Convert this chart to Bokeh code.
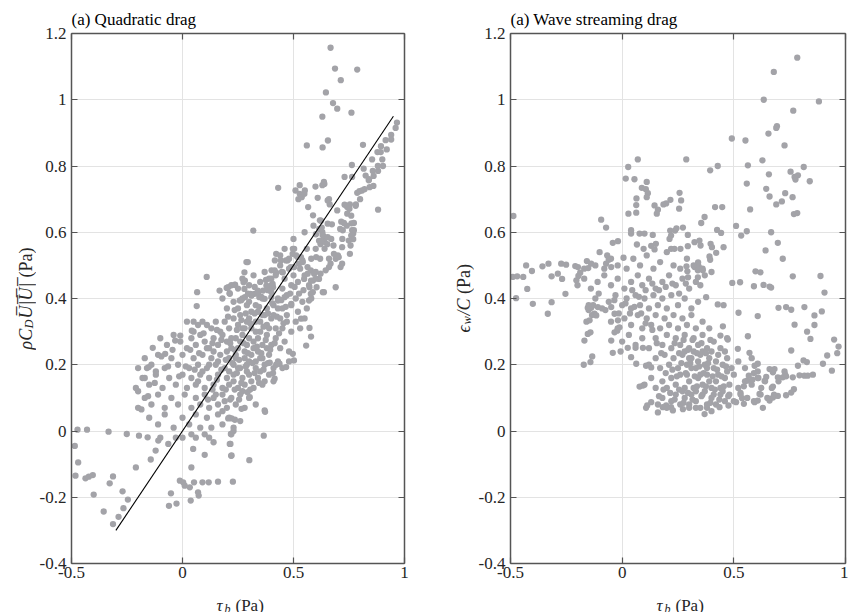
import math
from bokeh.plotting import figure
from bokeh.layouts import row, column
from bokeh.models import FixedTicker, LinearAxis, Label, Range1d
from bokeh.embed import file_html
from bokeh.resources import INLINE

# ---------------- data ----------------
x_ticks = [-0.5, 0, 0.5, 1]
x_tick_labels = ["-0.5", "0", "0.5", "1"]
y_ticks = [-0.4, -0.2, 0, 0.2, 0.4, 0.6, 0.8, 1, 1.2]
y_tick_labels = ["-0.4", "-0.2", "0", "0.2", "0.4", "0.6", "0.8", "1", "1.2"]

fit_x = [-0.3, 0.95]
fit_y = [-0.3, 0.95]

# (a) Quadratic drag : (tau_b, rho C_D U|U|)
quad_upper = [
    (0.667, 1.157), (0.687, 1.094), (0.787, 1.091), (0.713, 1.059), (0.646, 1.022), (0.678, 0.990),
    (0.697, 0.973), (0.761, 0.961), (0.630, 0.949), (0.560, 0.862), (0.631, 0.856), (0.655, 0.877),
    (0.813, 0.864), (0.966, 0.931), (0.960, 0.915), (0.940, 0.894), (0.915, 0.878), (0.894, 0.860),
    (0.878, 0.842), (0.893, 0.842), (0.854, 0.820), (0.903, 0.800), (0.857, 0.785), (0.881, 0.785),
    (0.861, 0.770), (0.816, 0.792), (0.825, 0.771), (0.763, 0.803), (0.730, 0.767), (0.764, 0.767),
    (0.839, 0.757), (0.843, 0.736), (0.809, 0.726), (0.787, 0.719), (0.797, 0.724), (0.881, 0.668),
    (0.431, 0.734), (0.509, 0.726), (0.528, 0.742), (0.528, 0.716), (0.551, 0.726), (0.522, 0.700),
    (0.537, 0.706), (0.566, 0.676), (0.599, 0.738), (0.637, 0.752), (0.630, 0.742), (0.609, 0.704),
    (0.660, 0.700), (0.663, 0.684), (0.588, 0.651), (0.619, 0.636), (0.697, 0.666), (0.730, 0.683),
    (0.742, 0.676), (0.754, 0.684), (0.752, 0.671), (0.742, 0.656), (0.781, 0.684), (0.715, 0.632),
    (0.727, 0.628), (0.761, 0.627), (0.772, 0.628), (0.722, 0.606), (0.764, 0.606), (0.769, 0.596),
    (0.769, 0.579), (0.673, 0.624), (0.627, 0.614), (0.631, 0.592), (0.637, 0.587), (0.601, 0.594),
    (0.615, 0.574), (0.622, 0.564), (0.640, 0.571), (0.652, 0.564), (0.319, 0.605), (0.639, 0.746),
    (0.549, 0.716), (0.654, 0.696), (0.624, 0.635), (0.616, 0.610), (0.654, 0.626), (0.624, 0.575),
    (0.654, 0.585), (0.602, 0.525), (0.74, 0.62), (0.76, 0.65), (0.78, 0.68), (0.80, 0.70),
    (0.82, 0.73), (0.84, 0.76), (0.86, 0.74), (0.88, 0.80), (0.90, 0.82), (0.92, 0.85), (0.94, 0.88),
]

quad_middle = [
    (0.422, 0.535), (0.416, 0.515), (0.443, 0.515), (0.466, 0.515), (0.473, 0.515), (0.401, 0.485),
    (0.422, 0.478), (0.448, 0.480), (0.503, 0.550), (0.496, 0.535), (0.518, 0.525), (0.540, 0.515),
    (0.525, 0.505), (0.488, 0.495), (0.503, 0.495), (0.563, 0.495), (0.548, 0.459), (0.578, 0.485),
    (0.294, 0.510), (0.279, 0.479), (0.109, 0.465), (0.066, 0.419), (0.064, 0.377), (0.167, 0.424),
    (0.199, 0.432), (0.212, 0.416), (0.237, 0.441), (0.275, 0.449), (0.279, 0.429), (0.306, 0.414),
    (0.324, 0.414), (0.339, 0.424), (0.346, 0.404), (0.376, 0.456), (0.384, 0.432), (0.406, 0.444),
    (0.593, 0.475), (0.588, 0.454), (0.604, 0.434), (0.578, 0.414), (0.570, 0.394), (0.682, 0.535),
    (0.690, 0.520), (0.690, 0.434), (0.637, 0.419), (0.704, 0.525), (0.712, 0.495), (0.719, 0.505),
    (0.667, 0.505), (0.660, 0.495), (0.645, 0.485), (0.622, 0.475), (0.615, 0.459), (0.600, 0.480),
    (0.719, 0.555), (0.757, 0.560), (0.749, 0.575), (0.760, 0.590), (0.772, 0.606), (0.754, 0.535),
    (0.497, 0.550), (0.512, 0.530), (0.534, 0.525), (0.542, 0.510), (0.452, 0.479), (0.415, 0.485),
    (0.400, 0.460), (0.378, 0.439), (0.363, 0.424), (0.408, 0.434), (0.288, 0.510), (0.281, 0.454),
    (0.236, 0.442), (0.206, 0.434), (0.213, 0.414), (0.281, 0.404), (0.258, 0.394), (0.311, 0.409),
    (0.341, 0.414), (0.370, 0.399), (0.400, 0.404), (0.430, 0.394), (0.460, 0.404), (0.490, 0.384),
    (0.564, 0.475), (0.579, 0.454), (0.572, 0.434), (0.587, 0.419), (0.632, 0.419), (0.534, 0.339),
    (0.572, 0.311), (0.579, 0.285), (0.557, 0.258), (0.56, 0.55), (0.58, 0.52), (0.60, 0.55),
    (0.62, 0.52), (0.64, 0.55), (0.66, 0.52), (0.68, 0.56), (0.70, 0.53), (0.72, 0.58), (0.55, 0.60),
    (0.59, 0.62), (0.63, 0.60), (0.67, 0.58), (0.71, 0.61), (0.50, 0.58), (0.46, 0.55), (0.48, 0.52),
    (0.44, 0.53),
]

quad_core = [
    (0.22, 0.44), (0.25, 0.43), (0.27, 0.46), (0.30, 0.44), (0.32, 0.47), (0.35, 0.45), (0.37, 0.48),
    (0.39, 0.46), (0.42, 0.47), (0.44, 0.50), (0.46, 0.46), (0.48, 0.49), (0.50, 0.47), (0.52, 0.45),
    (0.53, 0.49), (0.55, 0.47), (0.57, 0.44), (0.60, 0.46),
    (0.18, 0.40), (0.20, 0.37), (0.23, 0.39), (0.25, 0.37), (0.27, 0.40), (0.29, 0.38), (0.31, 0.41),
    (0.33, 0.38), (0.34, 0.36), (0.36, 0.40), (0.38, 0.37), (0.40, 0.42), (0.41, 0.38), (0.43, 0.40),
    (0.45, 0.37), (0.47, 0.41), (0.49, 0.38), (0.51, 0.40), (0.52, 0.36), (0.54, 0.39), (0.56, 0.37),
    (0.58, 0.40),
    (0.02, 0.33), (0.05, 0.33), (0.07, 0.32), (0.09, 0.33), (0.11, 0.32), (0.13, 0.31), (0.15, 0.33),
    (0.17, 0.30), (0.19, 0.33), (0.21, 0.31), (0.23, 0.34), (0.25, 0.32), (0.26, 0.35), (0.28, 0.31),
    (0.30, 0.34), (0.31, 0.31), (0.33, 0.33), (0.35, 0.30), (0.36, 0.35), (0.38, 0.32), (0.40, 0.34),
    (0.42, 0.31), (0.44, 0.34), (0.45, 0.31), (0.47, 0.33), (0.49, 0.30), (0.51, 0.33), (0.53, 0.31),
    (0.55, 0.34),
    (-0.10, 0.28), (-0.07, 0.26), (-0.04, 0.29), (-0.01, 0.27), (0.02, 0.25), (0.04, 0.28), (0.06, 0.26),
    (0.08, 0.29), (0.10, 0.27), (0.12, 0.25), (0.14, 0.28), (0.16, 0.26), (0.18, 0.29), (0.20, 0.27),
    (0.22, 0.25), (0.24, 0.28), (0.25, 0.25), (0.27, 0.29), (0.29, 0.26), (0.30, 0.28), (0.32, 0.25),
    (0.34, 0.28), (0.36, 0.26), (0.38, 0.29), (0.40, 0.26), (0.42, 0.28), (0.44, 0.25), (0.46, 0.27),
    (0.48, 0.24),
    (-0.20, 0.19), (-0.17, 0.22), (-0.14, 0.20), (-0.11, 0.23), (-0.08, 0.19), (-0.05, 0.22), (-0.02, 0.20),
    (0.00, 0.23), (0.03, 0.19), (0.05, 0.22), (0.07, 0.20), (0.09, 0.23), (0.11, 0.19), (0.13, 0.22),
    (0.15, 0.20), (0.17, 0.23), (0.19, 0.19), (0.21, 0.22), (0.23, 0.20), (0.24, 0.23), (0.26, 0.19),
    (0.28, 0.22), (0.29, 0.20), (0.31, 0.23), (0.33, 0.19), (0.35, 0.22), (0.37, 0.20), (0.39, 0.23),
    (0.41, 0.19), (0.43, 0.21), (0.45, 0.19), (0.48, 0.21),
    (-0.21, 0.13), (-0.18, 0.16), (-0.15, 0.14), (-0.12, 0.17), (-0.09, 0.13), (-0.06, 0.16), (-0.03, 0.14),
    (0.00, 0.17), (0.02, 0.13), (0.04, 0.16), (0.06, 0.14), (0.08, 0.17), (0.10, 0.13), (0.12, 0.16),
    (0.14, 0.14), (0.16, 0.17), (0.18, 0.13), (0.20, 0.16), (0.21, 0.14), (0.23, 0.17), (0.25, 0.13),
    (0.27, 0.16), (0.28, 0.14), (0.30, 0.17), (0.32, 0.13), (0.34, 0.16), (0.36, 0.14), (0.39, 0.17),
    (0.41, 0.15),
    (-0.20, 0.07), (-0.17, 0.10), (-0.14, 0.08), (-0.11, 0.11), (-0.08, 0.07), (-0.05, 0.10), (-0.02, 0.08),
    (0.01, 0.11), (0.04, 0.07), (0.06, 0.10), (0.08, 0.08), (0.10, 0.11), (0.12, 0.07), (0.14, 0.10),
    (0.16, 0.08), (0.18, 0.11), (0.20, 0.07), (0.22, 0.10), (0.24, 0.08), (0.26, 0.11), (0.28, 0.07),
    (0.30, 0.10), (0.33, 0.08),
    (-0.15, 0.04), (-0.11, 0.02), (-0.08, 0.05), (-0.04, 0.01), (0.00, 0.04), (0.03, 0.02), (0.06, 0.05),
    (0.08, 0.01), (0.11, 0.04), (0.13, 0.01), (0.16, 0.05), (0.18, 0.02), (0.21, 0.04), (0.23, 0.01),
    (0.26, 0.03),
    (0.20, 0.24), (0.22, 0.28), (0.24, 0.22), (0.26, 0.27), (0.28, 0.24), (0.30, 0.21), (0.32, 0.27),
    (0.34, 0.24), (0.36, 0.22), (0.38, 0.25), (0.21, 0.18), (0.23, 0.15), (0.25, 0.19), (0.27, 0.12),
    (0.29, 0.18), (0.31, 0.15), (0.33, 0.21), (0.35, 0.18), (0.37, 0.15), (0.27, 0.31), (0.29, 0.33),
    (0.31, 0.36), (0.33, 0.30), (0.35, 0.33), (0.37, 0.35), (0.39, 0.31), (0.41, 0.35), (0.43, 0.37),
    (0.45, 0.43), (0.47, 0.35), (0.49, 0.44), (0.40, 0.44), (0.34, 0.42), (0.30, 0.39), (0.12, 0.20),
    (0.14, 0.24), (0.16, 0.21), (0.09, 0.18), (0.07, 0.15), (0.11, 0.25), (0.05, 0.30), (0.18, 0.06),
    (0.15, 0.11), (0.19, 0.09),
    (-0.134, 0.251), (-0.078, 0.233), (-0.033, 0.273), (-0.010, 0.288), (0.042, 0.303), (-0.152, 0.193),
    (-0.17, 0.16), (-0.20, 0.12), (-0.16, 0.19), (-0.12, 0.18),
    (0.497, 0.233), (0.502, 0.213), (0.467, 0.193), (0.437, 0.203), (0.422, 0.200), (0.393, 0.206),
    (0.408, 0.175), (0.415, 0.158), (0.370, 0.062), (0.236, 0.034), (0.221, 0.038), (0.206, 0.038),
    (0.266, 0.067), (0.303, 0.102), (0.293, 0.117),
]

quad_dense = [
    (0.215, 0.265), (0.235, 0.245), (0.255, 0.215), (0.275, 0.265), (0.295, 0.235), (0.315, 0.205),
    (0.335, 0.255), (0.355, 0.235), (0.375, 0.275), (0.395, 0.245), (0.415, 0.265), (0.435, 0.295),
    (0.455, 0.325), (0.225, 0.205), (0.245, 0.175), (0.265, 0.145), (0.285, 0.195), (0.305, 0.125),
    (0.325, 0.175), (0.345, 0.145), (0.365, 0.185), (0.385, 0.205), (0.245, 0.305), (0.265, 0.335),
    (0.285, 0.355), (0.305, 0.325), (0.325, 0.355), (0.345, 0.375), (0.365, 0.315), (0.385, 0.355),
    (0.405, 0.385), (0.425, 0.345), (0.445, 0.395), (0.465, 0.375), (0.485, 0.415), (0.505, 0.435),
    (0.525, 0.415), (0.545, 0.425), (0.195, 0.215), (0.175, 0.185), (0.155, 0.155), (0.135, 0.125),
    (0.115, 0.095), (0.195, 0.125), (0.215, 0.095), (0.235, 0.125), (0.255, 0.095), (0.175, 0.275),
    (0.155, 0.305), (0.135, 0.265), (0.095, 0.295), (0.075, 0.235), (0.055, 0.185), (0.035, 0.245),
    (0.015, 0.195), (-0.015, 0.165), (-0.045, 0.245), (-0.065, 0.195), (-0.095, 0.225), (-0.125, 0.145),
    (-0.155, 0.105), (-0.185, 0.065), (0.385, 0.425), (0.355, 0.405), (0.325, 0.435), (0.295, 0.415),
    (0.265, 0.395), (0.235, 0.365), (0.205, 0.345),
]

quad_lower = [
    (-0.473, 0.004), (-0.430, 0.004), (-0.485, -0.045), (-0.470, -0.095), (-0.482, -0.135),
    (-0.437, -0.143), (-0.422, -0.138), (-0.404, -0.133), (-0.400, -0.192), (-0.355, -0.243),
    (-0.313, -0.281), (-0.288, -0.259), (-0.266, -0.233), (-0.270, -0.182), (-0.246, -0.207),
    (-0.328, -0.158), (-0.313, -0.137), (-0.333, -0.002), (-0.251, -0.009), (-0.210, -0.110),
    (-0.196, -0.014), (-0.157, -0.019), (-0.143, -0.086), (-0.121, -0.059), (-0.109, -0.029),
    (-0.100, -0.020), (-0.064, -0.039), (-0.052, -0.188), (-0.061, -0.226), (-0.027, -0.219),
    (-0.012, -0.150), (0.003, -0.155), (0.010, -0.165), (0.033, -0.170), (0.037, -0.210),
    (0.040, -0.110), (0.052, -0.155), (0.070, -0.185), (0.073, -0.195), (0.090, -0.155),
    (0.118, -0.155), (0.160, -0.153), (0.227, -0.153), (0.048, -0.054), (0.100, -0.072),
    (0.140, -0.034), (0.216, -0.039), (0.219, -0.075), (0.301, -0.088), (0.366, -0.014),
    (0.372, 0.058), (-0.03, -0.02), (0.00, -0.02), (0.04, -0.01), (0.06, -0.02), (0.10, -0.01),
    (0.12, -0.02), (0.22, -0.01), (0.23, 0.00), (0.221, -0.074), (0.213, -0.039), (0.218, -0.009),
]

# (a) Wave streaming drag : (tau_b, eps_w / C)
wave_left = [
    (-0.487, 0.649), (-0.490, 0.465), (-0.470, 0.467), (-0.475, 0.401), (-0.443, 0.465), (-0.430, 0.500),
    (-0.425, 0.429), (-0.404, 0.483), (-0.400, 0.384), (-0.357, 0.497), (-0.330, 0.505), (-0.316, 0.467),
    (-0.316, 0.389), (-0.333, 0.354), (-0.288, 0.475), (-0.273, 0.505), (-0.251, 0.502), (-0.269, 0.459),
    (-0.254, 0.414), (-0.210, 0.498), (-0.198, 0.495), (-0.205, 0.455), (-0.196, 0.468), (-0.188, 0.478),
    (-0.158, 0.513), (-0.139, 0.505), (-0.170, 0.490), (-0.152, 0.492), (-0.172, 0.200), (-0.142, 0.208),
    (-0.134, 0.225), (-0.154, 0.293), (-0.169, 0.273), (-0.142, 0.298), (-0.150, 0.365), (-0.135, 0.350),
    (-0.16, 0.33), (-0.13, 0.38), (-0.154, 0.372), (-0.139, 0.372), (-0.124, 0.354), (-0.146, 0.334),
    (-0.116, 0.349), (-0.109, 0.374), (-0.049, 0.273), (-0.034, 0.298), (-0.022, 0.303), (-0.012, 0.313),
    (-0.019, 0.334), (-0.034, 0.354), (-0.049, 0.374), (-0.042, 0.236), (-0.007, 0.240), (0.025, 0.251),
    (0.060, 0.251), (0.093, 0.251), (0.040, 0.223), (0.063, 0.203), (0.107, 0.197), (0.130, 0.192),
]

wave_upper = [
    (0.634, 1.000), (0.679, 1.084), (0.784, 1.127), (0.881, 0.995), (0.766, 0.967), (0.693, 0.920),
    (0.690, 0.915), (0.655, 0.898), (0.727, 0.862), (0.628, 0.817), (0.657, 0.775), (0.754, 0.783),
    (0.772, 0.767), (0.787, 0.772), (0.776, 0.759), (0.813, 0.797), (0.840, 0.754), (0.645, 0.731),
    (0.660, 0.708), (0.690, 0.684), (0.715, 0.693), (0.730, 0.718), (0.763, 0.706), (0.769, 0.655),
    (0.784, 0.658), (0.667, 0.600), (0.697, 0.568), (0.642, 0.545), (0.719, 0.520), (0.764, 0.467),
    (0.888, 0.468), (0.906, 0.418), (0.491, 0.883), (0.552, 0.877), (0.563, 0.802), (0.558, 0.747),
    (0.573, 0.669), (0.510, 0.619), (0.533, 0.590), (0.558, 0.603), (0.493, 0.447), (0.528, 0.449),
    (0.590, 0.437), (0.597, 0.482), (0.619, 0.479), (0.633, 0.441), (0.660, 0.436), (0.667, 0.433),
    (0.287, 0.820), (0.394, 0.787), (0.428, 0.800), (0.416, 0.676), (0.448, 0.676), (0.425, 0.607),
    (0.443, 0.598), (0.396, 0.565), (0.402, 0.555), (0.454, 0.555), (0.421, 0.538), (0.391, 0.527),
    (0.394, 0.517), (0.428, 0.382), (0.376, 0.404), (0.216, 0.698), (0.257, 0.719), (0.264, 0.696),
    (0.255, 0.671), (0.215, 0.605), (0.219, 0.590), (0.237, 0.605), (0.243, 0.612), (0.212, 0.580),
    (0.272, 0.614), (0.294, 0.592), (0.261, 0.550), (0.219, 0.550), (0.234, 0.550), (0.294, 0.558),
    (0.324, 0.570), (0.346, 0.575), (0.351, 0.560), (0.354, 0.628), (0.369, 0.646), (0.016, 0.762),
    (0.027, 0.797), (0.070, 0.820), (0.055, 0.760), (0.028, 0.656), (0.063, 0.659), (0.063, 0.682),
    (0.064, 0.702), (0.088, 0.734), (0.110, 0.752), (0.106, 0.730), (0.115, 0.718), (0.110, 0.706),
    (0.145, 0.681), (0.160, 0.668), (0.155, 0.656), (0.185, 0.684), (0.197, 0.687), (0.040, 0.606),
    (0.040, 0.596), (0.078, 0.596), (0.100, 0.596), (0.137, 0.592), (0.066, 0.563), (0.096, 0.550),
    (0.130, 0.559), (0.151, 0.565), (0.145, 0.548), (-0.094, 0.638), (-0.072, 0.614), (-0.101, 0.540),
    (-0.067, 0.530), (-0.060, 0.517), (-0.072, 0.505), (-0.049, 0.495), (-0.042, 0.568), (-0.019, 0.573),
    (0.006, 0.523), (0.288, 0.497), (0.292, 0.482), (0.295, 0.464), (0.324, 0.495), (0.339, 0.485),
    (0.339, 0.464), (0.361, 0.485), (0.343, 0.496), (0.340, 0.509), (0.37, 0.47), (0.35, 0.44),
]

wave_right = [
    (0.630, 0.070), (0.660, 0.092), (0.675, 0.101), (0.697, 0.106), (0.734, 0.108), (0.757, 0.116),
    (0.769, 0.126), (0.675, 0.134), (0.697, 0.162), (0.719, 0.162), (0.734, 0.165), (0.764, 0.162),
    (0.787, 0.197), (0.794, 0.168), (0.816, 0.167), (0.831, 0.167), (0.854, 0.170), (0.812, 0.213),
    (0.827, 0.208), (0.899, 0.203), (0.918, 0.228), (0.939, 0.182), (0.963, 0.235), (0.969, 0.255),
    (0.949, 0.276), (0.757, 0.243), (0.843, 0.278), (0.828, 0.300), (0.861, 0.320), (0.772, 0.321),
    (0.861, 0.349), (0.894, 0.361), (0.700, 0.372), (0.734, 0.374), (0.757, 0.366), (0.816, 0.374),
    (0.607, 0.347), (0.521, 0.357), (0.454, 0.380), (0.451, 0.316), (0.440, 0.288), (0.473, 0.276),
    (0.518, 0.248), (0.563, 0.286), (0.570, 0.236), (0.593, 0.197), (0.607, 0.203), (0.590, 0.175),
    (0.583, 0.155), (0.560, 0.152), (0.567, 0.167), (0.545, 0.135), (0.530, 0.115), (0.537, 0.099),
    (0.607, 0.180), (0.607, 0.160), (0.645, 0.163), (0.638, 0.151), (0.623, 0.130), (0.615, 0.112),
    (0.675, 0.177), (0.682, 0.187), (0.660, 0.187), (0.727, 0.180), (0.510, 0.087), (0.545, 0.082),
    (0.593, 0.087), (0.607, 0.092), (0.436, 0.072), (0.476, 0.077), (0.369, 0.051), (0.38, 0.07),
    (0.40, 0.06), (0.33, 0.07), (0.30, 0.08), (0.078, 0.134), (0.093, 0.137), (0.112, 0.077),
    (0.107, 0.070), (0.130, 0.087), (0.160, 0.056), (0.182, 0.072), (0.197, 0.077), (0.219, 0.072),
    (0.227, 0.062), (0.272, 0.066),
]

wave_core = [
    (0.16, 0.08), (0.18, 0.10), (0.20, 0.07), (0.22, 0.09), (0.24, 0.11), (0.26, 0.08), (0.28, 0.10),
    (0.30, 0.07), (0.31, 0.11), (0.33, 0.09), (0.35, 0.07), (0.36, 0.11), (0.38, 0.08), (0.40, 0.10),
    (0.42, 0.08), (0.44, 0.11), (0.46, 0.09), (0.48, 0.11), (0.50, 0.09), (0.53, 0.11), (0.56, 0.10),
    (0.59, 0.09), (0.62, 0.11), (0.65, 0.10), (0.68, 0.11),
    (0.10, 0.14), (0.13, 0.16), (0.15, 0.13), (0.18, 0.15), (0.20, 0.13), (0.22, 0.16), (0.24, 0.14),
    (0.26, 0.17), (0.28, 0.13), (0.30, 0.15), (0.32, 0.13), (0.34, 0.16), (0.36, 0.14), (0.38, 0.17),
    (0.40, 0.13), (0.42, 0.15), (0.44, 0.13), (0.46, 0.16), (0.48, 0.14), (0.50, 0.17), (0.52, 0.13),
    (0.55, 0.15), (0.58, 0.14), (0.61, 0.16), (0.64, 0.15), (0.67, 0.13), (0.70, 0.15), (0.73, 0.17),
    (0.12, 0.20), (0.15, 0.22), (0.17, 0.19), (0.19, 0.23), (0.21, 0.20), (0.23, 0.22), (0.25, 0.19),
    (0.27, 0.23), (0.29, 0.20), (0.31, 0.22), (0.33, 0.19), (0.35, 0.23), (0.37, 0.20), (0.39, 0.22),
    (0.41, 0.19), (0.43, 0.23), (0.45, 0.20), (0.47, 0.22), (0.49, 0.19), (0.52, 0.21), (0.55, 0.19),
    (0.58, 0.22),
    (0.00, 0.27), (0.03, 0.29), (0.06, 0.26), (0.09, 0.28), (0.12, 0.25), (0.15, 0.28), (0.18, 0.26),
    (0.20, 0.29), (0.22, 0.25), (0.24, 0.28), (0.26, 0.26), (0.28, 0.29), (0.30, 0.25), (0.32, 0.28),
    (0.34, 0.26), (0.36, 0.29), (0.38, 0.25), (0.41, 0.27), (0.44, 0.25), (0.47, 0.28),
    (-0.05, 0.33), (-0.02, 0.31), (0.01, 0.34), (0.04, 0.32), (0.07, 0.35), (0.09, 0.31), (0.11, 0.34),
    (0.13, 0.32), (0.15, 0.35), (0.17, 0.31), (0.19, 0.34), (0.21, 0.32), (0.23, 0.35), (0.25, 0.31),
    (0.27, 0.34), (0.29, 0.32), (0.31, 0.35), (0.33, 0.31), (0.36, 0.33), (0.39, 0.31),
    (-0.15, 0.38), (-0.12, 0.40), (-0.09, 0.37), (-0.06, 0.39), (-0.03, 0.41), (0.00, 0.38), (0.02, 0.40),
    (0.04, 0.37), (0.06, 0.41), (0.08, 0.38), (0.10, 0.40), (0.12, 0.37), (0.14, 0.41), (0.16, 0.38),
    (0.18, 0.40), (0.20, 0.37), (0.22, 0.41), (0.25, 0.38), (0.28, 0.40), (0.31, 0.37), (0.34, 0.39),
    (-0.20, 0.44), (-0.17, 0.46), (-0.14, 0.43), (-0.11, 0.45), (-0.08, 0.47), (-0.05, 0.44), (-0.02, 0.46),
    (0.01, 0.43), (0.04, 0.45), (0.07, 0.47), (0.09, 0.44), (0.12, 0.46), (0.15, 0.43), (0.18, 0.45),
    (0.21, 0.47), (0.24, 0.44), (0.27, 0.46), (0.30, 0.43), (0.33, 0.45),
    (-0.12, 0.50), (-0.08, 0.49), (-0.05, 0.52), (-0.02, 0.50), (0.02, 0.49), (0.05, 0.52), (0.08, 0.50),
    (0.11, 0.53), (0.14, 0.49), (0.17, 0.51), (0.20, 0.54), (0.23, 0.50), (0.26, 0.49), (0.29, 0.52),
    (0.32, 0.50), (0.36, 0.49), (0.40, 0.48),
    (0.27, 0.12), (0.29, 0.17), (0.31, 0.19), (0.33, 0.12), (0.35, 0.17), (0.37, 0.12), (0.39, 0.15),
    (0.41, 0.11), (0.43, 0.17), (0.45, 0.12), (0.47, 0.18), (0.30, 0.22), (0.34, 0.21), (0.38, 0.19),
    (0.42, 0.21), (0.46, 0.24), (0.28, 0.24), (0.32, 0.24), (0.36, 0.24), (0.40, 0.24),
]

wave_dense = [
    (0.215, 0.115), (0.235, 0.095), (0.255, 0.125), (0.275, 0.085), (0.295, 0.115), (0.315, 0.095),
    (0.335, 0.135), (0.355, 0.105), (0.375, 0.135), (0.395, 0.085), (0.415, 0.125), (0.435, 0.095),
    (0.455, 0.135), (0.475, 0.105), (0.225, 0.185), (0.245, 0.165), (0.265, 0.205), (0.285, 0.175),
    (0.305, 0.205), (0.325, 0.165), (0.345, 0.195), (0.365, 0.175), (0.385, 0.205), (0.405, 0.165),
    (0.425, 0.185), (0.445, 0.165), (0.465, 0.195), (0.235, 0.265), (0.255, 0.235), (0.275, 0.275),
    (0.295, 0.245), (0.315, 0.275), (0.335, 0.235), (0.355, 0.265), (0.375, 0.235), (0.395, 0.275),
    (0.165, 0.105), (0.185, 0.125), (0.195, 0.175), (0.175, 0.235), (0.155, 0.265), (0.135, 0.305),
    (0.105, 0.325), (0.085, 0.355), (0.055, 0.375), (0.035, 0.355), (0.015, 0.385), (-0.015, 0.355),
    (-0.035, 0.395), (-0.075, 0.365), (-0.105, 0.415), (0.045, 0.425), (0.075, 0.405), (0.105, 0.425),
    (0.135, 0.445), (0.165, 0.425), (0.195, 0.435), (0.225, 0.445), (0.255, 0.415), (0.285, 0.445),
]

# ---------------- style ----------------
FONT = "Liberation Serif"
DOT = "#a3a3a8"
AXC = "#555555"
TXT = "#262626"
GRID = "#e3e3e3"
TOP = 33          # frame top (px)
FRAME_H = 530     # frame height (px)
PH = 590          # height of the plotting figures
XH = 22           # height of the x-title strips
H = PH + XH
BOTTOM = H - TOP - FRAME_H


def make_panel(title, groups, width, left_border, right_border, fit=False):
    p = figure(width=width, height=PH, output_backend="svg", toolbar_location=None,
               x_range=Range1d(-0.5, 1), y_range=Range1d(-0.4, 1.2),
               min_border_left=left_border, min_border_right=right_border,
               min_border_top=TOP, min_border_bottom=PH - TOP - FRAME_H)
    p.title.text = title
    p.title.text_font = FONT
    p.title.text_font_size = "17px"
    p.title.text_font_style = "normal"
    p.title.text_color = "#000000"
    p.title.align = "left"
    p.title.offset = 0
    p.title.standoff = 10
    p.outline_line_color = None
    p.background_fill_color = "white"
    p.border_fill_color = "white"

    xt = FixedTicker(ticks=x_ticks)
    yt = FixedTicker(ticks=y_ticks)
    p.xgrid.ticker = xt
    p.ygrid.ticker = yt
    for g in (p.xgrid, p.ygrid):
        g.grid_line_color = GRID
        g.grid_line_width = 1

    bottom = p.below[0]
    left = p.left[0]
    bottom.ticker = xt
    left.ticker = yt
    bottom.major_label_overrides = dict(zip(x_ticks, x_tick_labels))
    left.major_label_overrides = dict(zip(y_ticks, y_tick_labels))

    top = LinearAxis(ticker=xt, major_label_overrides={t: "" for t in x_ticks})
    right = LinearAxis(ticker=yt, major_label_overrides={t: "" for t in y_ticks})
    p.add_layout(top, "above")
    p.add_layout(right, "right")

    for ax in (bottom, left, top, right):
        ax.axis_line_color = AXC
        ax.axis_line_width = 1.5
        ax.major_tick_line_color = AXC
        ax.major_tick_line_width = 1.2
        ax.major_tick_in = 6
        ax.major_tick_out = 0
        ax.minor_tick_line_color = None
        ax.major_label_text_font = FONT
        ax.major_label_text_font_size = "17px"
        ax.major_label_text_color = TXT
    bottom.major_label_standoff = 3
    left.major_label_standoff = 5
    top.major_label_standoff = 0
    right.major_label_standoff = 0

    for pts in groups:
        xs = [a for a, b in pts]
        ys = [b for a, b in pts]
        p.scatter(xs, ys, size=6.3, marker="circle", fill_color=DOT, line_color=None)
    if fit:
        p.line(fit_x, fit_y, line_color="black", line_width=1.1)
    return p


def blank(width, height, xr, yr, bl=0, br=0, bt=0, bb=0):
    # an axis-less canvas that only holds axis-title text
    s = figure(width=width, height=height, output_backend="svg", toolbar_location=None,
               x_range=xr, y_range=yr, x_axis_type=None, y_axis_type=None,
               min_border_left=bl, min_border_right=br, min_border_top=bt, min_border_bottom=bb)
    s.outline_line_color = None
    s.background_fill_color = "white"
    s.border_fill_color = "white"
    s.grid.visible = False
    return s


def lab(p, text, x, y, dx=0, dy=0, size=18, italic=False, angle=0.0):
    p.add_layout(Label(x=x, y=y, x_units="data", y_units="data", x_offset=dx, y_offset=dy,
                       text=text, text_font=FONT, text_font_size=f"{size}px",
                       text_font_style="italic" if italic else "normal",
                       text_color=TXT, text_align="left", text_baseline="alphabetic",
                       angle=angle))


p1 = make_panel("(a) Quadratic drag", [quad_upper, quad_middle, quad_core, quad_dense, quad_lower],
                388, 33, 20, fit=True)
p2 = make_panel("(a) Wave streaming drag", [wave_left, wave_upper, wave_right, wave_core, wave_dense],
                374, 36, 3)

R = math.pi / 2

# y titles share the panels' vertical scale (frame 33..563 px); x is in px
ylab1 = blank(36, H, Range1d(0, 36), Range1d(-0.4, 1.2), bt=TOP, bb=BOTTOM)
lab(ylab1, "ρC", 25, 0.4, dy=-51, italic=True, angle=R)
lab(ylab1, "D", 28.5, 0.4, dy=-30, size=12.5, italic=True, angle=R)
lab(ylab1, "U̅|̅U̅|̅", 25, 0.4, dy=-20, italic=True, angle=R)
lab(ylab1, "(Pa)", 25, 0.4, dy=21, angle=R)

ylab2 = blank(50, H, Range1d(0, 50), Range1d(-0.4, 1.2), bt=TOP, bb=BOTTOM)
lab(ylab2, "ϵ", 39, 0.4, dy=-34, italic=True, angle=R)
lab(ylab2, "w", 42.5, 0.4, dy=-26, size=12.5, italic=True, angle=R)
lab(ylab2, "/C", 39, 0.4, dy=-17, italic=True, angle=R)
lab(ylab2, "(Pa)", 39, 0.4, dy=4.5, angle=R)

# x titles share the panels' horizontal scale; y is in px (downwards)
xlab1 = blank(388, XH, Range1d(-0.5, 1), Range1d(XH, 0), bl=33, br=20)
lab(xlab1, "τ", 0.25, 15, dx=-21.5, size=17, italic=True)
lab(xlab1, "b", 0.25, 18, dx=-13.5, size=12, italic=True)
lab(xlab1, "(Pa)", 0.25, 15, dx=-2.5, size=17)

xlab2 = blank(374, XH, Range1d(-0.5, 1), Range1d(XH, 0), bl=36, br=3)
lab(xlab2, "τ", 0.25, 15, dx=-21.5, size=17, italic=True)
lab(xlab2, "b", 0.25, 18, dx=-13.5, size=12, italic=True)
lab(xlab2, "(Pa)", 0.25, 15, dx=-2.5, size=17)

layout = row(ylab1, column(p1, xlab1), ylab2, column(p2, xlab2))
open("out.html", "w").write(file_html(layout, INLINE))
